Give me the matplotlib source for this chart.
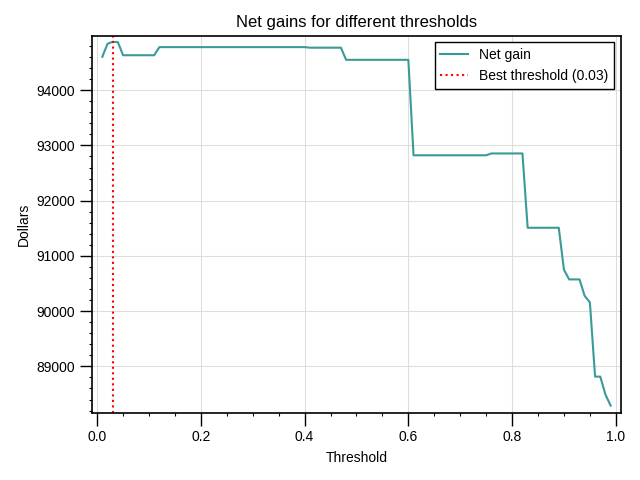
import matplotlib
matplotlib.use("Agg")
import matplotlib.pyplot as plt
import numpy as np
from matplotlib.ticker import AutoMinorLocator

plt.rcParams['font.family'] = ['Liberation Sans', 'DejaVu Sans']

# thresholds 0.01 .. 0.99
thresholds = np.round(np.arange(1, 100) / 100, 2)

# net gain, one value per threshold
gains = ([94605, 94840, 94877, 94870]
         + [94633] * 7                      # 0.05 - 0.11
         + [94780] * 29                     # 0.12 - 0.40
         + [94770] * 7                      # 0.41 - 0.47
         + [94550] * 13                     # 0.48 - 0.60
         + [92822] * 15                     # 0.61 - 0.75
         + [92855] * 7                      # 0.76 - 0.82
         + [91510] * 7                      # 0.83 - 0.89
         + [90750, 90575, 90575, 90575, 90275, 90160,
            88815, 88815, 88490, 88290])     # 0.90 - 0.99
gains = np.array(gains)

best = thresholds[np.argmax(gains)]

fig, ax = plt.subplots(figsize=(6.4, 4.8), dpi=100)
fig.subplots_adjust(left=0.144, right=0.970, top=0.926, bottom=0.140)

ax.plot(thresholds, gains, color='#3a9a97', linewidth=1.5, label='Net gain')
ax.axvline(best, color='red', linestyle=':', linewidth=1.5,
           label='Best threshold ({:.2f})'.format(best))
ax.margins(x=0.02)
ax.set_ylim(88160, 94990)

ax.set_title('Net gains for different thresholds', fontsize=12)
ax.set_xlabel('Threshold', labelpad=5)
ax.set_ylabel('Dollars')

ax.grid(True, color='#dddddd', linewidth=0.8)
ax.set_axisbelow(True)
ax.xaxis.set_minor_locator(AutoMinorLocator())
ax.yaxis.set_minor_locator(AutoMinorLocator())
ax.tick_params(which='major', length=9, width=1)
ax.tick_params(which='minor', length=2.5, width=0.8)
for s in ax.spines.values():
    s.set_linewidth(1.2)

leg = ax.legend(loc='upper right', fancybox=False, edgecolor='black',
                framealpha=1)
leg.get_frame().set_linewidth(1.0)

fig.savefig('out.png')
